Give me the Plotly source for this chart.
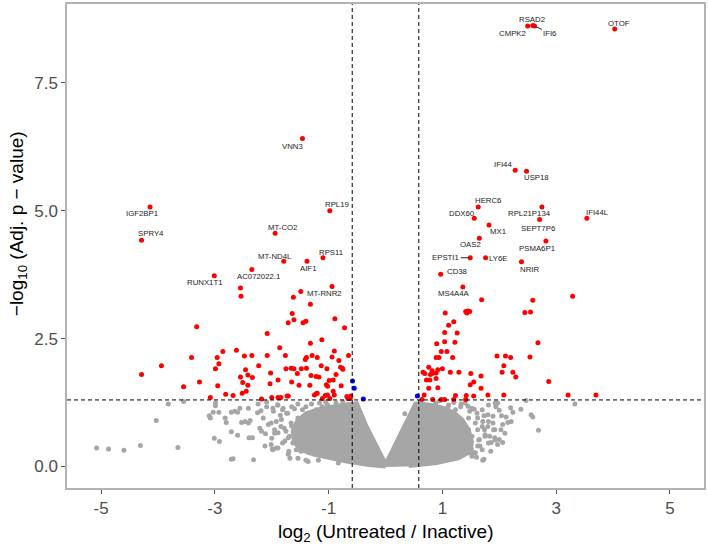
import math
import plotly.graph_objects as go

# ---------------- data ----------------
fc_cut = math.log2(1.5)
p_cut = -math.log10(0.05)

# labelled significant genes
lab_genes = ["VNN3", "IGF2BP1", "SPRY4", "RPL19", "MT-CO2", "MT-ND4L", "AIF1", "RPS11",
             "AC072022.1", "RUNX1T1", "MT-RNR2", "RSAD2", "CMPK2", "IFI6", "OTOF", "IFI44",
             "USP18", "HERC6", "DDX60", "RPL21P134", "SEPT7P6", "IFI44L", "MX1", "OAS2",
             "PSMA6P1", "EPSTI1", "LY6E", "NRIR", "CD38", "MS4A4A"]
lab_fc = [-1.46, -4.14, -4.29, -0.98, -1.94, -1.79, -1.38, -1.10, -2.35, -3.01, -0.94,
          2.59, 2.50, 2.62, 4.03, 2.28, 2.48, 1.63, 1.56, 2.75, 2.71, 3.54, 1.82, 1.65,
          2.82, 1.49, 1.76, 2.39, 0.97, 1.36]
lab_p = [6.41, 5.07, 4.42, 5.00, 4.56, 4.01, 4.01, 4.08, 3.85, 3.73, 3.52,
         8.62, 8.61, 8.61, 8.55, 5.79, 5.77, 5.07, 4.85, 5.07, 4.83, 4.85, 4.72, 4.46,
         4.41, 4.08, 4.08, 4.00, 3.76, 3.51]
# repelled label anchor (data units)
lab_tx = [-1.64, -4.28, -4.13, -0.85, -1.81, -1.94, -1.37, -0.96, -2.23, -3.18, -1.07,
          2.58, 2.24, 2.89, 4.11, 2.07, 2.65, 1.80, 1.35, 2.53, 2.68, 3.72, 1.98, 1.49,
          2.66, 1.06, 1.99, 2.54, 1.25, 1.21]
lab_ty = [6.26, 4.95, 4.55, 5.12, 4.67, 4.11, 3.88, 4.18, 3.72, 3.60, 3.39,
          8.74, 8.46, 8.47, 8.66, 5.90, 5.64, 5.20, 4.95, 4.95, 4.66, 4.97, 4.60, 4.33,
          4.27, 4.08, 4.07, 3.85, 3.82, 3.38]
segment_genes = ["IFI6", "EPSTI1"]

# other significant genes (red)
sig_fc = [-1.49, -2.55, -2.54, -1.62, -1.32, -1.64, -1.61, -1.71, -1.45, -1.40, -0.89, -0.72,
          -3.32, -2.08, -1.12, -1.32, -1.86, -2.62, -2.86, -0.90, -3.41, -2.96, -2.48, -2.35,
          -2.08, -1.76, -1.29, -1.20, -1.39, -1.41, -0.94, -0.65, -3.94, -2.93, -2.99, -2.23,
          -2.46, -2.42, -2.55, -2.34, -2.02, -1.75, -1.66, -1.61, -1.48, -1.39, -1.13, -1.03,
          -0.82, -0.79, -0.76, -0.75, -0.87, -1.55, -1.31, -1.22, -1.17, -0.99, -0.92, -4.29,
          -3.27, -3.55, -2.95, -2.51, -2.42, -2.03, -1.89, -1.65, -1.52, -1.33, -1.04, -1.02,
          -0.78, -2.45, -2.52, -2.81, -2.68, -3.08, -2.18, -2.00, -1.89, -1.84, -1.73, -1.71,
          -1.22, -1.25, -1.20, -1.06, -1.02, -0.92, -0.90, -1.11, -0.98, -0.68, -0.66, -0.62,
          -0.61,
          1.69, 2.59, 3.29, 1.05, 1.41, 1.43, 1.45, 1.48, 2.45, 2.55, 1.20, 1.11, 1.26, 1.04,
          1.22, 0.90, 1.04, 2.68, 0.98, 1.08, 0.89, 0.94, 1.18, 1.96, 2.11, 2.20, 2.54, 2.08,
          0.76, 0.82, 0.92, 1.00, 0.66, 0.69, 0.79, 0.82, 0.89, 1.14, 1.29, 1.50, 1.68, 2.05,
          2.24, 2.29, 0.89, 0.72, 0.78, 1.55, 1.49, 2.87, 0.76, 0.92, 1.68, 0.68, 1.23, 1.42,
          1.55, 1.80, 2.08, 3.21, 3.70, 0.64, 0.83, 0.98, 1.04, 1.20, 1.41]
sig_p = [3.42, 3.49, 3.33, 3.31, 3.17, 2.99, 2.87, 2.81, 2.81, 2.84, 2.89, 2.71,
         2.73, 2.60, 2.48, 2.41, 2.32, 2.27, 2.25, 2.26, 2.13, 2.13, 2.16, 2.17,
         2.17, 2.17, 2.17, 2.13, 2.13, 2.09, 2.14, 2.17, 1.97, 2.01, 1.91, 1.97,
         1.89, 1.79, 1.75, 1.74, 1.83, 1.91, 1.92, 1.91, 1.91, 1.92, 1.97, 1.91,
         2.07, 1.94, 1.92, 1.90, 1.80, 1.82, 1.78, 1.76, 1.75, 1.68, 1.69, 1.80,
         1.65, 1.56, 1.58, 1.64, 1.59, 1.62, 1.69, 1.65, 1.59, 1.59, 1.60, 1.57,
         1.58, 1.47, 1.43, 1.41, 1.39, 1.35, 1.32, 1.35, 1.35, 1.35, 1.38, 1.38,
         1.42, 1.40, 1.43, 1.39, 1.40, 1.47, 1.40, 1.33, 1.33, 1.37, 1.33, 1.33,
         1.38,
         3.26, 3.25, 3.33, 3.00, 3.03, 3.00, 3.04, 3.03, 3.01, 3.02, 2.83, 2.76, 2.61, 2.62,
         2.43, 2.40, 2.44, 2.42, 2.25, 2.25, 2.13, 2.13, 2.13, 2.16, 2.16, 2.13, 2.14, 1.97,
         1.94, 1.87, 1.89, 1.91, 1.84, 1.82, 1.80, 1.82, 1.83, 1.84, 1.84, 1.82, 1.77, 1.84,
         1.84, 1.75, 1.72, 1.69, 1.69, 1.65, 1.60, 1.66, 1.53, 1.54, 1.53, 1.40, 1.39, 1.39,
         1.38, 1.40, 1.40, 1.40, 1.40, 1.31, 1.31, 1.31, 1.31, 1.31, 1.31]

# significant but small fold change (blue)
blue_fc = [-0.58, -0.55, -0.39, 0.56]
blue_p = [1.67, 1.53, 1.32, 1.38]

# non-significant genes away from the dense core (grey)
ns_fc = [-5.08, -4.87, -4.60, -4.31, -3.65, -4.03, -3.82, -3.55, -3.01, -2.92, -2.68, -2.32,
         -2.99, -2.99, -3.10, -3.08, -3.03, -2.93, -2.82, -2.80, -2.71, -2.65, -2.60, -2.56,
         -2.41, -2.24, -2.09, -2.19, -2.53, -2.47, -2.41, -2.38, -2.71, -2.60, -2.40, -2.34,
         -2.21, -2.18, -2.11, -2.06, -1.97, -1.90, -1.80, -2.71, -2.12, -2.01, -1.99, -1.92,
         -1.89, -1.77, -1.71, -1.65, -1.83, -1.74, -1.65, -1.54, -2.09, -1.54, -1.36, -1.18,
         -0.83, -1.71,
         -1.98, -1.89, -1.81, -1.72, -1.92, -2.01, -1.84, -1.75, -1.95, -1.69, -1.81, -1.89,
         -1.98, -1.63, -1.57, -1.66, -1.54, -1.46, -1.40, -1.34, -1.49, -1.37, -1.28, -1.22,
         -1.16, -1.11, -1.02, -0.96, -0.87, -0.78, -0.73, -0.67, -0.64, -0.81, -0.93, -1.05,
         -1.16, -1.28, -1.43, -1.49, -1.34, -1.16, -0.99,
         -1.70, -1.78, -1.85, -1.60, -1.30, -1.05, -0.75, -2.00, -2.15, -2.25, -1.95, -1.68,
         -1.40,
         0.34, 0.64, 0.75, 0.89, 1.10, 1.33, 1.48, 1.56, 1.73, 1.80, 1.89, 1.94, 1.97, 2.04,
         2.12, 2.24, 2.38, 2.47, 2.56, 2.59, 2.69, 3.33, 1.71, 1.89, 1.92, 2.03, 2.06, 2.15,
         2.21, 1.83, 1.92, 2.00, 2.06, 1.97, 1.86, 1.62, 1.74, 1.65, 1.62, 1.51, 1.48, 1.56,
         1.71,
         0.64, 0.76, 0.88, 0.99, 1.11, 1.23, 1.32, 1.40, 1.52, 1.61, 1.70, 1.81, 1.93, 1.46,
         1.58, 1.70, 1.81, 1.90, 1.75, 1.64, 1.52, 1.81, 1.70, 1.58, 1.73, 1.46, 1.35, 1.40,
         1.23, 1.11, 0.99, 0.88, 1.93, 1.52,
         1.60, 1.66, 1.75, 1.62, 1.45, 1.20, 0.95, 2.10, 2.20, 1.85, 1.80, 2.00]
ns_p = [0.36, 0.34, 0.32, 0.41, 0.37, 0.90, 1.22, 1.27, 0.55, 0.49, 0.15, 0.13,
        1.24, 1.19, 0.99, 0.95, 1.06, 1.06, 0.95, 0.86, 1.06, 1.08, 1.06, 1.14,
        1.14, 1.22, 1.17, 1.09, 0.86, 0.88, 0.85, 0.90, 0.68, 0.61, 0.56, 0.56,
        0.75, 0.69, 0.64, 0.82, 1.08, 1.20, 1.14, 0.14, 0.40, 0.43, 0.34, 0.36,
        0.66, 0.50, 0.56, 0.79, 0.92, 1.04, 1.17, 1.22, 1.26, 0.16, 0.10, 0.12,
        0.07, 0.24,
        1.14, 1.20, 1.11, 1.04, 0.88, 0.85, 0.78, 0.69, 0.65, 0.59, 0.46, 0.36,
        0.33, 0.46, 0.33, 0.85, 0.95, 1.11, 1.17, 1.01, 0.78, 0.69, 0.88, 1.11,
        1.24, 1.17, 1.20, 1.11, 1.24, 1.17, 1.04, 1.20, 1.11, 0.88, 0.95, 0.82,
        0.65, 0.52, 0.46, 0.30, 0.27, 0.23, 0.20,
        0.30, 0.75, 1.00, 1.13, 1.22, 1.26, 1.26, 0.55, 0.95, 1.05, 0.72, 0.16,
        0.12,
        1.03, 1.19, 1.14, 1.14, 1.17, 1.22, 1.08, 1.12, 0.99, 1.01, 0.98, 1.17, 1.24, 0.99,
        0.97, 1.06, 1.12, 1.29, 1.01, 0.97, 0.71, 1.22, 0.88, 0.85, 0.72, 0.72, 0.82, 0.86,
        0.88, 0.59, 0.56, 0.53, 0.47, 0.43, 0.47, 0.72, 0.72, 0.53, 0.40, 0.34, 0.27, 0.27,
        0.12,
        1.20, 1.11, 1.24, 1.14, 1.20, 1.11, 1.17, 1.24, 1.14, 1.04, 1.11, 1.20, 1.24, 0.95,
        0.85, 0.78, 0.88, 0.72, 0.59, 0.52, 0.59, 0.46, 0.33, 0.27, 0.14, 0.72, 0.85, 0.39,
        0.78, 0.91, 0.95, 0.98, 0.52, 0.20,
        0.18, 0.40, 0.62, 0.95, 1.18, 1.25, 1.28, 0.65, 1.15, 0.30, 0.78, 1.10]

# outline of the dense cloud of non-significant genes
core_fc = [0.00, -0.29, -0.64, -0.95, -1.25, -1.50, -1.62, -1.64, -1.56, -1.40, -1.15, -0.85,
           -0.60, -0.50, -0.43, -0.34, -0.22, -0.10, 0.00, 0.10, 0.20, 0.29, 0.41, 0.52,
           0.75, 0.98, 1.20, 1.36, 1.47, 1.53, 1.50, 1.28, 0.90, 0.41]
core_p = [-0.01, 0.02, 0.08, 0.15, 0.22, 0.32, 0.48, 0.70, 0.90, 1.05, 1.14, 1.20,
          1.24, 1.25, 1.07, 0.83, 0.56, 0.29, 0.08, 0.29, 0.52, 0.72, 1.01, 1.24,
          1.22, 1.17, 1.07, 0.92, 0.72, 0.48, 0.28, 0.15, 0.06, 0.00]

x_tickvals = [-5, -3, -1, 1, 3, 5]
x_ticktext = ["-5", "-3", "-1", "1", "3", "5"]
y_tickvals = [0, 2.5, 5, 7.5]
y_ticktext = ["0.0", "2.5", "5.0", "7.5"]

# ---------------- figure ----------------
GREY = "#A6A6A6"
FONT = "Liberation Sans, Arial, Helvetica, sans-serif"

fig = go.Figure()
fig.add_trace(go.Scatter(x=core_fc, y=core_p, mode="lines", fill="toself",
                         fillcolor=GREY, line=dict(color=GREY, width=3),
                         hoverinfo="skip", showlegend=False))
fig.add_trace(go.Scatter(x=ns_fc, y=ns_p, mode="markers",
                         marker=dict(color=GREY, size=5), showlegend=False))
fig.add_trace(go.Scatter(x=sig_fc + lab_fc, y=sig_p + lab_p, mode="markers",
                         marker=dict(color="#FF0000", size=5), showlegend=False))
fig.add_trace(go.Scatter(x=blue_fc, y=blue_p, mode="markers",
                         marker=dict(color="#0000FF", size=5), showlegend=False))

LABEL_FONT = dict(family=FONT, size=7.8, color="#222222")
for g, px_, py_, tx, ty in zip(lab_genes, lab_fc, lab_p, lab_tx, lab_ty):
    if g in segment_genes:
        fig.add_annotation(x=px_, y=py_, ax=tx, ay=ty, axref="x", ayref="y",
                           text=g, showarrow=True, arrowhead=0, arrowwidth=1,
                           arrowcolor="#222222", standoff=1, font=LABEL_FONT)
    else:
        fig.add_annotation(x=tx, y=ty, text=g, showarrow=False, font=LABEL_FONT)

# threshold lines
for xv in (-fc_cut, fc_cut):
    fig.add_shape(type="line", x0=xv, x1=xv, y0=0, y1=1, xref="x", yref="paper",
                  line=dict(color="black", width=1, dash="4px,3px"))
fig.add_shape(type="line", x0=0, x1=1, y0=p_cut, y1=p_cut, xref="paper", yref="y",
              line=dict(color="black", width=1, dash="4px,3px"))

# axis titles
fig.add_annotation(xref="paper", yref="paper", x=0.5, y=0, yshift=-45,
                   text="log<sub>2</sub> (Untreated / Inactive)", showarrow=False,
                   xanchor="center", yanchor="middle",
                   font=dict(family=FONT, size=19, color="black"))
fig.add_annotation(xref="paper", yref="paper", x=0, xshift=-49, y=0.545,
                   text="\u2212log<sub>10</sub> (Adj. p \u2212 value)", showarrow=False,
                   textangle=-90, xanchor="center", yanchor="middle",
                   font=dict(family=FONT, size=19, color="black"))

axis_common = dict(showgrid=False, zeroline=False, showline=True, mirror=True,
                   linecolor="#B3B3B3", linewidth=1.5, ticks="outside", ticklen=4,
                   tickcolor="#555555", tickfont=dict(family=FONT, size=17, color="#4D4D4D"))
fig.update_xaxes(range=[-5.6, 5.6], tickvals=x_tickvals, ticktext=x_ticktext, **axis_common)
fig.update_yaxes(range=[-0.42, 9.04], tickvals=y_tickvals, ticktext=y_ticktext, **axis_common)

fig.update_layout(width=708, height=544, margin=dict(l=67, r=2, t=2, b=56),
                  plot_bgcolor="white", paper_bgcolor="white", showlegend=False,
                  font=dict(family=FONT))

fig.write_html("out.html", config={"displayModeBar": False},
               post_script="document.body.style.margin='0px';")
